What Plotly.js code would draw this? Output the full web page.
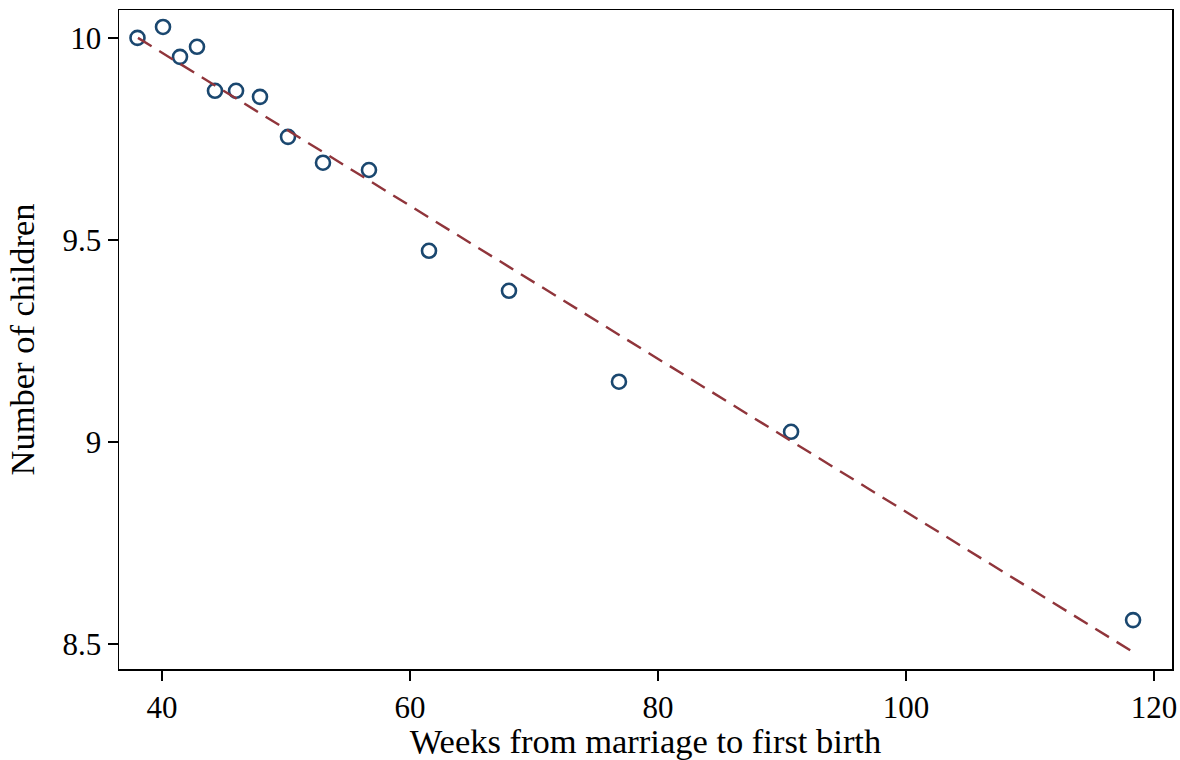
<!DOCTYPE html>
<html><head><meta charset="utf-8">
<script src="https://cdn.plot.ly/plotly-3.0.1.min.js"></script>
<style>html,body{margin:0;padding:0;background:#fff}</style>
</head><body>
<div id="chart" style="width:1180px;height:760px"></div>
<script>
const weeks = [38.02, 40.08, 41.45, 42.82, 44.27, 45.97, 47.9, 50.16, 52.98, 56.69, 61.53, 67.98, 76.85, 90.73, 118.31];
const children = [10.0, 10.027, 9.953, 9.978, 9.869, 9.869, 9.854, 9.755, 9.691, 9.673, 9.473, 9.374, 9.149, 9.025, 8.559];
const fitX = [38.06, 118.31];
const fitY = [10.0, 8.48];
const xTicks = [40, 60, 80, 100, 120];
const yTicks = [8.5, 9, 9.5, 10];
const yTickText = ['8.5', '9', '9.5', '10'];

const font = 'Liberation Serif, Times New Roman, serif';
const traces = [
  {x: weeks, y: children, type: 'scatter', mode: 'markers',
   marker: {symbol: 'circle-open', size: 14, color: '#1a476f', line: {width: 2.6, color: '#1a476f'}},
   showlegend: false, hoverinfo: 'skip'},
  {x: fitX, y: fitY, type: 'scatter', mode: 'lines',
   line: {color: '#90353b', width: 2.4, dash: '16px,9px'},
   showlegend: false, hoverinfo: 'skip'}
];
const layout = {
  width: 1180, height: 760,
  margin: {l: 119, r: 8, t: 10, b: 91},
  paper_bgcolor: '#fff', plot_bgcolor: '#fff',
  font: {family: font, color: '#000', size: 31},
  xaxis: {range: [36.53, 121.45], tickvals: xTicks, ticktext: xTicks.map(String),
    ticks: 'outside', ticklen: 10, tickwidth: 1.5, tickcolor: '#000',
    showline: true, linecolor: '#000', linewidth: 1.5, mirror: true,
    showgrid: false, zeroline: false, tickfont: {size: 31},
    title: {text: 'Weeks from marriage to first birth', font: {size: 34.5}, standoff: 5}},
  yaxis: {range: [8.438, 10.069], tickvals: yTicks, ticktext: yTickText,
    ticks: 'outside', ticklen: 10, tickwidth: 1.5, tickcolor: '#000',
    showline: true, linecolor: '#000', linewidth: 1.5, mirror: true,
    showgrid: false, zeroline: false, tickfont: {size: 31},
    title: {text: 'Number of children', font: {size: 34.5}, standoff: 17}}
};
Plotly.newPlot('chart', traces, layout, {displayModeBar: false, staticPlot: true});
</script>
</body></html>
